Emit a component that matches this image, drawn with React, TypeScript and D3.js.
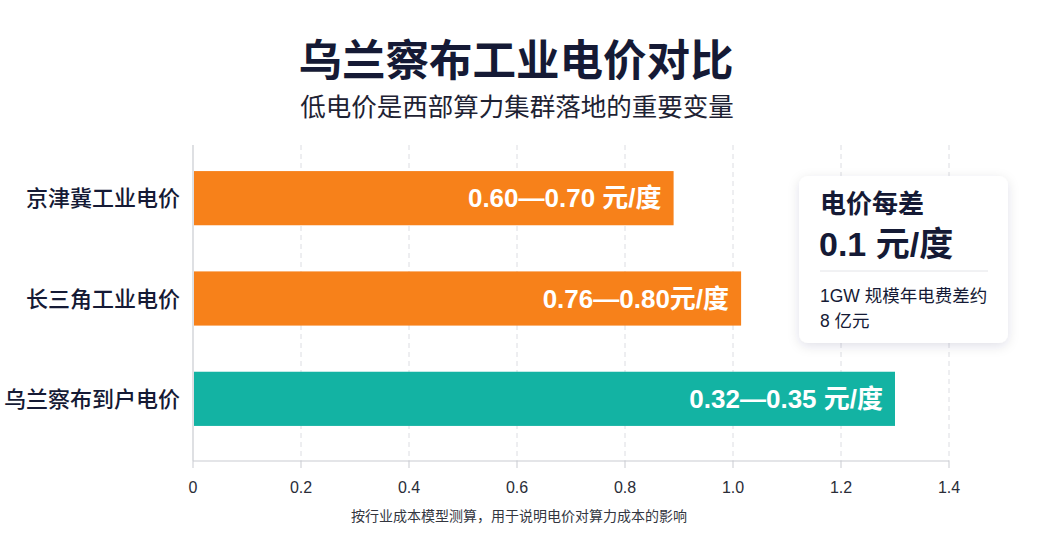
import * as React from "react";
import * as d3 from "d3";

const categories: string[] = ["京津冀工业电价", "长三角工业电价", "乌兰察布到户电价"];
const values: number[] = [0.89, 1.015, 1.3];
const valueLabels: string[] = ["0.60—0.70 元/度", "0.76—0.80元/度", "0.32—0.35 元/度"];
const barColors: string[] = ["#f7811a", "#f7811a", "#13b3a3"];
const xTicks: number[] = [0, 0.2, 0.4, 0.6, 0.8, 1.0, 1.2, 1.4];

const width = 1055;
const height = 552;
const font = "'Liberation Sans', 'Noto Sans CJK SC', sans-serif";
const dark = "#151a35";

export default function App(): JSX.Element {
    const x = d3.scaleLinear().domain([0, 1.4]).range([193, 949]);
    const y = d3.scaleBand<string>()
        .domain(categories)
        .range([148, 449])
        .paddingInner(0.46)
        .paddingOuter(0.23);
    const axisY = 461;
    const plotTop = 145;

    return (
        <svg width={width} height={height} style={{ position: "absolute", left: 0, top: 0 }}
            fontFamily={font}>
            <defs>
                <filter id="shadow" x="-20%" y="-20%" width="140%" height="140%">
                    <feDropShadow dx="0" dy="3" stdDeviation="6" floodColor="#1a2040" floodOpacity="0.12" />
                </filter>
            </defs>
            <rect width={width} height={height} fill="#ffffff" />

            <text x={516} y={76} textAnchor="middle" fontSize={43.5} fontWeight={700} fill={dark}
                fontFamily="'Noto Sans CJK SC', sans-serif">
                乌兰察布工业电价对比
            </text>
            <text x={517} y={116} textAnchor="middle" fontSize={25.5} fill="#1e2233"
                fontFamily="'Noto Sans CJK SC', sans-serif">
                低电价是西部算力集群落地的重要变量
            </text>

            {/* grid */}
            {xTicks.filter((t) => t > 0).map((t) => (
                <line key={"g" + t} x1={x(t)} x2={x(t)} y1={plotTop} y2={axisY}
                    stroke="#dcdde2" strokeWidth={1} strokeDasharray="5,4" />
            ))}
            <line x1={x(0)} x2={x(0)} y1={plotTop} y2={axisY} stroke="#c9cbd1" strokeWidth={1.2} />
            <line x1={x(0)} x2={x(1.4)} y1={axisY} y2={axisY} stroke="#c9cbd1" strokeWidth={1.2} />
            {xTicks.map((t) => (
                <g key={"t" + t}>
                    <line x1={x(t)} x2={x(t)} y1={axisY} y2={axisY + 7} stroke="#c9cbd1" strokeWidth={1} />
                    <text x={x(t)} y={493} textAnchor="middle" fontSize={16} fill="#2a2d38">
                        {t === 0 ? "0" : d3.format(".1f")(t)}
                    </text>
                </g>
            ))}

            {/* bars */}
            {categories.map((c, i) => {
                const top = y(c) as number;
                const bw = y.bandwidth();
                return (
                    <g key={c}>
                        <rect x={x(0) + 1} y={top} width={x(values[i]) - x(0) - 1} height={bw} fill={barColors[i]} />
                        <text x={x(values[i]) - 12} y={top + bw / 2 + 9} textAnchor="end" fontSize={26}
                            fontWeight={700} fill="#ffffff">
                            {valueLabels[i]}
                        </text>
                        <text x={180} y={top + bw / 2 + 8} textAnchor="end" fontSize={22} fontWeight={500} fill={dark}
                            fontFamily="'Noto Sans CJK SC', sans-serif">
                            {c}
                        </text>
                    </g>
                );
            })}

            {/* callout */}
            <rect x={799} y={176} width={209} height={167} rx={9} fill="#ffffff" filter="url(#shadow)" />
            <text x={820} y={213} fontSize={26} fontWeight={700} fill={dark}>电价每差</text>
            <text x={819} y={256} fontSize={34} fontWeight={700} fill={dark}>0.1 元/度</text>
            <line x1={820} x2={988} y1={271} y2={271} stroke="#e3e4e8" strokeWidth={1} />
            <text x={820} y={302} fontSize={17.5} fill={dark}>1GW 规模年电费差约</text>
            <text x={820} y={327} fontSize={17.5} fill={dark}>8 亿元</text>

            <text x={519} y={521} textAnchor="middle" fontSize={14} fill="#33363f"
                fontFamily="'Noto Sans CJK SC', sans-serif">
                按行业成本模型测算，用于说明电价对算力成本的影响
            </text>
        </svg>
    );
}
